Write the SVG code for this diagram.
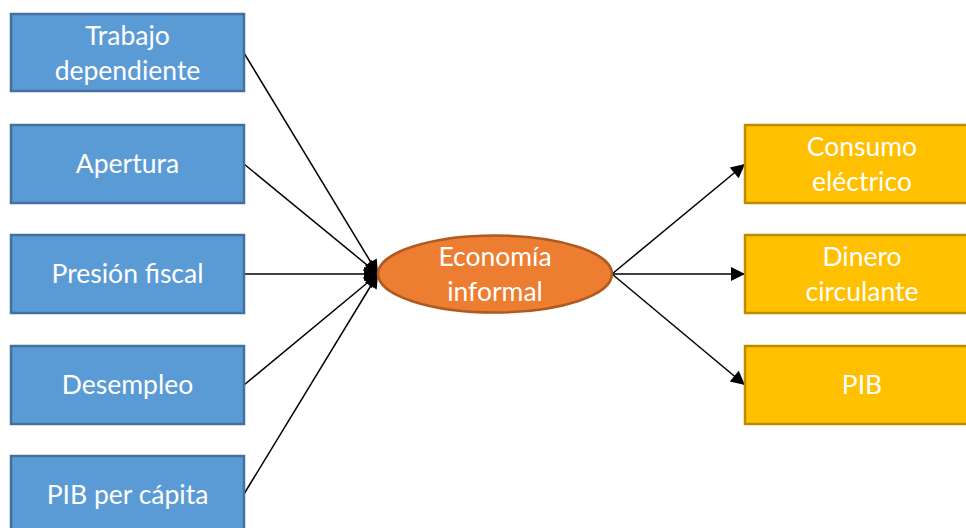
<svg xmlns="http://www.w3.org/2000/svg" width="966" height="528" viewBox="0 0 966 528">
<defs>
<marker id="ah2" viewBox="0 0 10 10" refX="10" refY="5" markerWidth="16" markerHeight="14" markerUnits="userSpaceOnUse" orient="auto"><path d="M0,0 L10,5 L0,10 z" fill="#000"/></marker>
</defs>
<style>
.b{fill:#5B9BD5;stroke:#41719C;stroke-width:2.5}
.y{fill:#FFC000;stroke:#BC8C00;stroke-width:2.5}
.o{fill:#ED7D31;stroke:#AE5A21;stroke-width:2.5}
text{font-family:Lato,"Open Sans","Liberation Sans",sans-serif;font-size:26.5px;fill:#fff;text-anchor:middle;dominant-baseline:central}
.c line{stroke:#000;stroke-width:1.5}
</style>
<rect width="966" height="528" fill="#fff"/>
<g class="c" id="connectors">
<line x1="244" y1="53" x2="378" y2="274" marker-end="url(#ah2)"/>
<line x1="244" y1="164" x2="378" y2="274" marker-end="url(#ah2)"/>
<line x1="244" y1="274" x2="378" y2="274" marker-end="url(#ah2)"/>
<line x1="244" y1="385" x2="378" y2="274" marker-end="url(#ah2)"/>
<line x1="244" y1="494" x2="378" y2="274" marker-end="url(#ah2)"/>
<line x1="612" y1="274" x2="745" y2="164" marker-end="url(#ah2)"/>
<line x1="612" y1="274" x2="745" y2="274" marker-end="url(#ah2)"/>
<line x1="612" y1="274" x2="745" y2="385" marker-end="url(#ah2)"/>
</g>
<g id="n1"><rect class="b" x="11" y="14" width="233" height="77"/><text x="127.5" y="35">Trabajo</text><text x="127.5" y="70">dependiente</text></g>
<g id="n2"><rect class="b" x="11" y="125" width="233" height="78"/><text x="127.5" y="163">Apertura</text></g>
<g id="n3"><rect class="b" x="11" y="235" width="233" height="78"/><text x="127.5" y="273">Presión fiscal</text></g>
<g id="n4"><rect class="b" x="11" y="346" width="233" height="78"/><text x="127.5" y="384">Desempleo</text></g>
<g id="n5"><rect class="b" x="11" y="456" width="233" height="80"/><text x="127.5" y="494">PIB per cápita</text></g>
<g id="center"><ellipse class="o" cx="495" cy="274" rx="117" ry="38.5"/><text x="495" y="256">Economía</text><text x="495" y="291">informal</text></g>
<g id="r1"><rect class="y" x="745" y="125" width="240" height="78"/><text x="862" y="146">Consumo</text><text x="862" y="181">eléctrico</text></g>
<g id="r2"><rect class="y" x="745" y="235" width="240" height="78"/><text x="862" y="256">Dinero</text><text x="862" y="291">circulante</text></g>
<g id="r3"><rect class="y" x="745" y="346" width="240" height="78"/><text x="862" y="384">PIB</text></g>
</svg>
